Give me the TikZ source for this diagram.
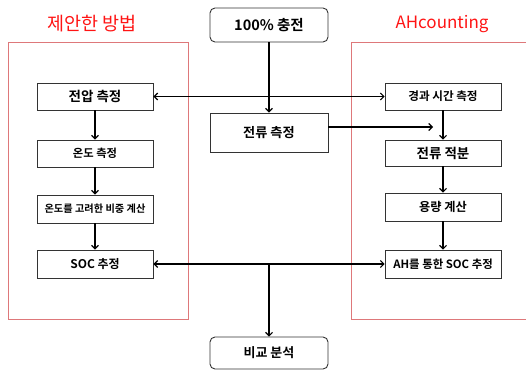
\documentclass[tikz,border=0pt]{standalone}
\usepackage{fontspec}
\setmainfont{Noto Sans CJK KR}[BoldFont={* Bold}]
\usetikzlibrary{arrows.meta}
\definecolor{frame}{RGB}{222,120,122}
\definecolor{ttl}{RGB}{255,20,20}
\begin{document}
\begin{tikzpicture}[x=1pt,y=-1pt,
  box/.style={draw=black!80, line width=0.9pt, inner sep=0pt, font=\bfseries},
  lbox/.style={box, minimum width=116pt},
  cbox/.style={box, minimum width=118pt, rounded corners=5pt},
  ttlstyle/.style={text=ttl, inner sep=0pt},
  arr/.style={line width=1.1pt, -{Straight Barb[length=3.5pt,width=7pt,line width=1.1pt]}},
  darr/.style={line width=1.1pt, {Straight Barb[length=3.5pt,width=7pt,line width=1.1pt]}-{Straight Barb[length=3.5pt,width=7pt,line width=1.1pt]}},
  grp/.style={draw=frame, line width=0.9pt}]
\useasboundingbox (0,0) rectangle (526,371);
% group frames
\draw[grp] (8,42) rectangle (188,319);
\draw[grp] (526,42) -- (351,42) -- (351,319) -- (526,319);
% titles
\node[ttlstyle, font=\fontsize{18.5}{22}\selectfont] (t1) at (92,24) {제안한 방법};
\node[ttlstyle, font=\fontsize{17}{20}\selectfont] (t2) at (442,24) {AHcounting};
% centre
\node[cbox, minimum height=34pt, font=\bfseries\fontsize{14.5}{17}\selectfont] (top) at (269,25) {100\% 충전};
\node[box, minimum width=118pt, minimum height=39pt, font=\bfseries\fontsize{13.2}{15}\selectfont] (cur) at (269,132.5) {전류 측정};
\node[cbox, minimum height=32pt, font=\bfseries\fontsize{13}{15}\selectfont] (cmp) at (269,353) {비교 분석};
% left
\node[lbox, minimum height=27pt, font=\bfseries\fontsize{13.5}{15}\selectfont] (v) at (95,96.5) {전압 측정};
\node[lbox, minimum height=27pt, font=\bfseries\fontsize{11.3}{13}\selectfont] (tm) at (95,153.5) {온도 측정};
\node[lbox, minimum height=28pt, font=\bfseries\fontsize{10.2}{12}\selectfont] (sg) at (95,209) {온도를 고려한 비중 계산};
\node[lbox, minimum height=28pt, font=\bfseries\fontsize{12}{14}\selectfont] (soc) at (95,264) {SOC 추정};
% right
\node[lbox, minimum height=27pt, font=\bfseries\fontsize{11.6}{13}\selectfont] (et) at (443,96.5) {경과 시간 측정};
\node[lbox, minimum height=26pt, font=\bfseries\fontsize{13.5}{15}\selectfont] (ci) at (443,153) {전류 적분};
\node[lbox, minimum height=28pt, font=\bfseries\fontsize{12.2}{14}\selectfont] (cap) at (443,207) {용량 계산};
\node[lbox, minimum height=28pt, font=\bfseries\fontsize{11.4}{13}\selectfont] (ah) at (443,264) {AH를 통한 SOC 추정};
% connectors
\draw[arr] (top.south) -- (cur.north);
\draw[darr] (v.east) -- (et.west);
\coordinate (ce) at (433,127);
\draw[arr] (cur.east |- ce) -- (ce);
\draw[arr] (v) -- (tm);
\draw[arr] (tm) -- (sg);
\draw[arr] (sg) -- (soc);
\draw[arr] (et) -- (ci);
\draw[arr] (ci) -- (cap);
\draw[arr] (cap) -- (ah);
\draw[darr] (soc.east) -- (ah.west);
\draw[arr] (cmp |- soc.east) -- (cmp.north);
\end{tikzpicture}
\end{document}
